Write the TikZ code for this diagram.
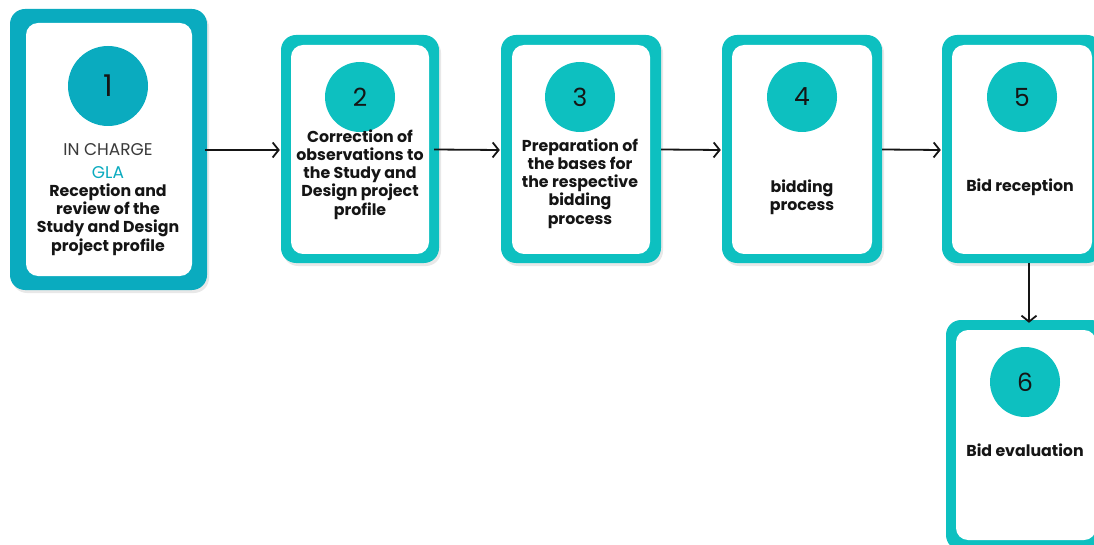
\documentclass[tikz,border=0pt]{standalone}
\usepackage{fontspec}
\setmainfont{Poppins}
\usetikzlibrary{shadows,arrows.meta}
\definecolor{tealA}{HTML}{0AABBF}
\definecolor{tealB}{HTML}{0DC0C0}
\definecolor{ink}{HTML}{151515}
\definecolor{inkgray}{HTML}{3A3A3A}
\begin{document}
\begin{tikzpicture}[x=1pt,y=-1pt,
  outerbox/.style={draw=none, fill=#1, rounded corners=15pt, inner sep=0pt,
    drop shadow={opacity=0.18, shadow xshift=2pt, shadow yshift=-3pt}},
  innerbox/.style={draw=none, fill=white, rounded corners=12pt, inner sep=0pt},
  numdisc/.style={circle, fill=#1, draw=none, inner sep=0pt},
  numtext/.style={font=\fontsize{25}{25}\selectfont, text=ink},
  steptext/.style={font=\bfseries\fontsize{15.8}{18.2}\selectfont, text=ink, align=center, inner sep=0pt},
  arr/.style={draw=ink, line width=1.8pt, -{Straight Barb[length=6pt,width=15pt,line width=1.8pt]}}
]
\useasboundingbox (0,0) rectangle (1094,545);
\clip (0,0) rectangle (1094,545);

% step 1 (highlighted)
\node[outerbox=tealA, minimum width=197pt, minimum height=281pt] (b1) at (108.5,149.5) {};
\node[innerbox, minimum width=166pt, minimum height=253pt] (w1) at (109,149.5) {};
\node[numdisc=tealA, minimum size=80pt] (c1) at (108,86) {};
\node[numtext, font=\fontsize{30}{30}\selectfont] (n1) at (c1) {1};
\node[font=\fontsize{17}{18}\selectfont, text=inkgray, inner sep=0pt] (t1a) at (108,150) {IN CHARGE};
\node[font=\fontsize{17}{18}\selectfont, text=tealA, inner sep=0pt] (t1b) at (108,173) {GLA};
\node[steptext] (t1c) at (108,219.5) {Reception and\\review of the\\Study and Design\\project profile};

% step 2
\node[outerbox=tealB, minimum width=158pt, minimum height=228pt] (b2) at (360,149) {};
\node[innerbox, minimum width=138pt, minimum height=209pt] (w2) at (360,149.5) {};
\node[numdisc=tealB, minimum size=70pt] (c2) at (360,97) {};
\node[numtext] (n2) at (c2) {2};
\node[steptext] (t2) at (360,174.5) {Correction of\\observations to\\the Study and\\Design project\\profile};

% step 3
\node[outerbox=tealB, minimum width=160pt, minimum height=228pt] (b3) at (581,149) {};
\node[innerbox, minimum width=138pt, minimum height=209pt] (w3) at (581,149.5) {};
\node[numdisc=tealB, minimum size=70pt] (c3) at (580,97) {};
\node[numtext] (n3) at (c3) {3};
\node[steptext] (t3) at (580,183.5) {Preparation of\\the bases for\\the respective\\bidding\\process};

% step 4
\node[outerbox=tealB, minimum width=160pt, minimum height=228pt] (b4) at (802,149) {};
\node[innerbox, minimum width=140pt, minimum height=209pt] (w4) at (802,149.5) {};
\node[numdisc=tealB, minimum size=70pt] (c4) at (802,97) {};
\node[numtext] (n4) at (c4) {4};
\node[steptext] (t4) at (802,197.5) {bidding\\process};

% step 5
\node[outerbox=tealB, minimum width=160pt, minimum height=228pt] (b5) at (1022,149) {};
\node[innerbox, minimum width=140pt, minimum height=209pt] (w5) at (1022,149.5) {};
\node[numdisc=tealB, minimum size=70pt] (c5) at (1022,97) {};
\node[numtext] (n5) at (c5) {5};
\node[steptext] (t5) at (1020,187) {Bid reception};

% step 6
\node[outerbox=tealB, minimum width=160pt, minimum height=230pt] (b6) at (1026,435) {};
\node[innerbox, minimum width=140pt, minimum height=210pt] (w6) at (1026,435) {};
\node[numdisc=tealB, minimum size=70pt] (c6) at (1025,382) {};
\node[numtext] (n6) at (c6) {6};
\node[steptext] (t6) at (1025,450) {Bid evaluation};

% connectors
\draw[arr] ([xshift=-2pt,yshift=-0.5pt]b1.east) -- ([xshift=-1pt]b2.west |- 0,150);
\draw[arr] ([xshift=-5pt,yshift=-0.5pt]b2.east) -- ([xshift=-1pt]b3.west |- 0,150);
\draw[arr] ([yshift=-0.5pt]b3.east) -- ([xshift=-1pt]b4.west |- 0,150);
\draw[arr] ([yshift=-0.5pt]b4.east) -- ([xshift=-1pt]b5.west |- 0,150);
\draw[arr] ([xshift=7pt]b5.south) -- ([xshift=7pt,yshift=-3pt]b5.south |- b6.north);
\end{tikzpicture}
\end{document}
